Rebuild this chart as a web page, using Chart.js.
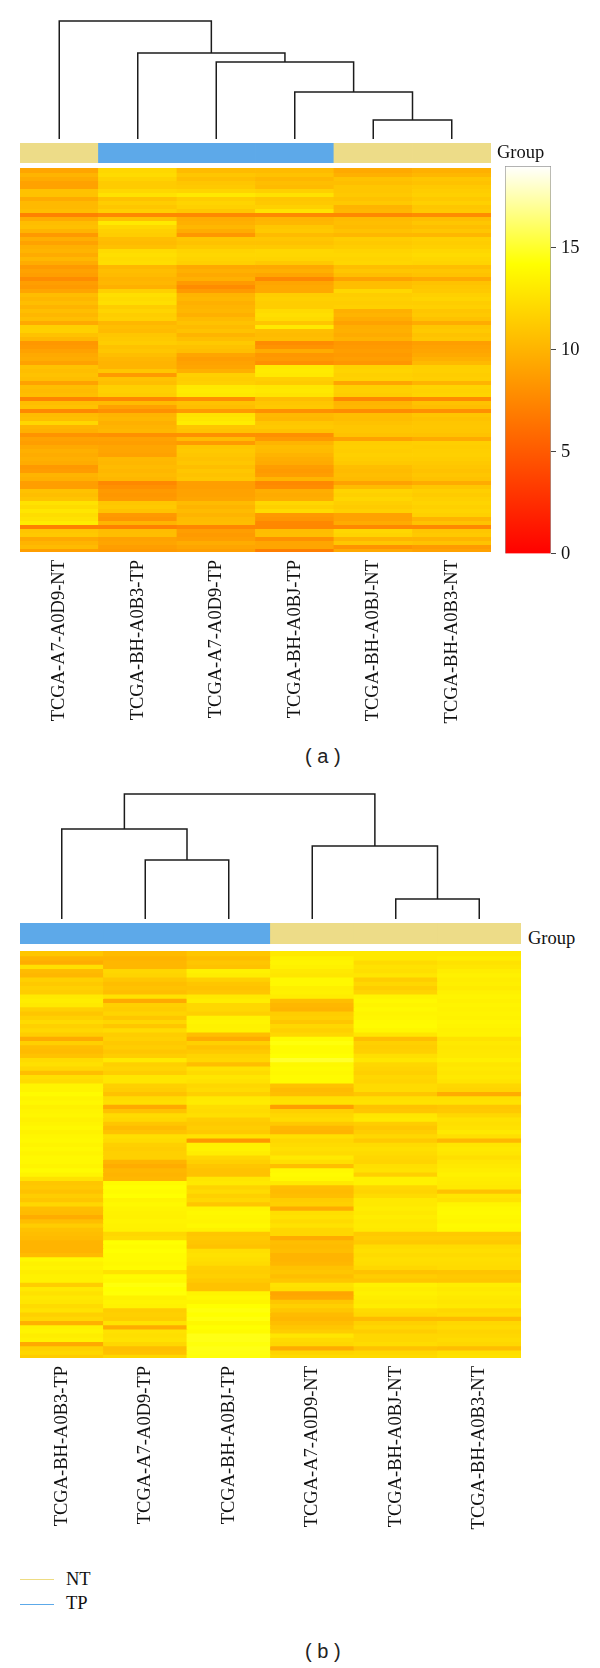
<!DOCTYPE html>
<html>
<head>
<meta charset="utf-8">
<title>Heatmaps</title>
<script src="https://cdn.jsdelivr.net/npm/chart.js@4"></script>
<style>
  html, body { margin: 0; padding: 0; background: #fff; }
  #page { position: relative; width: 600px; height: 1668px; overflow: hidden; }
  #page canvas { position: absolute; }
  .txt { position: absolute; font-family: "Liberation Serif", serif; font-size: 18.5px; color: #111; line-height: 20px; white-space: pre; }
  .cap { font-family: "Liberation Sans", sans-serif; font-size: 20px; line-height: 24px; color: #222; }
  .key { position: absolute; left: 20px; width: 34px; height: 1px; }
</style>
</head>
<body>
<div id="page">
  <canvas id="dendroA"></canvas>
  <canvas id="heatA"></canvas>
  <canvas id="barA"></canvas>
  <div class="txt" style="left:497px;top:142px">Group</div>
  <div class="txt cap" style="left:305px;top:744px">( a )</div>

  <canvas id="dendroB"></canvas>
  <canvas id="heatB"></canvas>
  <div class="txt" style="left:528px;top:928px">Group</div>

  <div class="key" style="top:1579px;background:#eedc82"></div>
  <div class="txt" style="left:66px;top:1569px">NT</div>
  <div class="key" style="top:1604px;background:#5ca9e9"></div>
  <div class="txt" style="left:66px;top:1593px">TP</div>
  <div class="txt cap" style="left:305px;top:1639px">( b )</div>
</div>

<script>
// sample order, left to right
const samplesA = ["TCGA-A7-A0D9-NT", "TCGA-BH-A0B3-TP", "TCGA-A7-A0D9-TP", "TCGA-BH-A0BJ-TP", "TCGA-BH-A0BJ-NT", "TCGA-BH-A0B3-NT"];
const samplesB = ["TCGA-BH-A0B3-TP", "TCGA-A7-A0D9-TP", "TCGA-BH-A0BJ-TP", "TCGA-A7-A0D9-NT", "TCGA-BH-A0BJ-NT", "TCGA-BH-A0B3-NT"];
const groupsA = ["NT", "TP", "TP", "TP", "NT", "NT"];
const groupsB = ["TP", "TP", "TP", "NT", "NT", "NT"];
const colorbarTicks = [0, 5, 10, 15];

// panel a, expression per row, one list per column
const a1 = [9.2,10,9.5,9,9,10.8,10.8,9.5,10.3,10.3,10.5,7.2,9.5,10.5,10.7,10,8.5,9.7,9,9.8,10,9.5,10.2,9.6,8.6,9,8.8,7.8,8.8,8.6,9.2,10.5,10.2,10.6,10,10.6,10.2,10.6,9.4,11.5,11.6,10.8,10.2,8.4,8.6,9,
  9.4,9.6,9,10.8,10.6,10.8,10.6,9,10.6,10.4,10.6,7.4,10.5,10.8,7.6,10.4,10.6,12,10,9.8,8.2,9,8.8,9.4,9.8,9.6,9.8,9.6,8.5,8.7,10,9.8,8.8,8.8,10.8,10.6,10.9,12.6,12.2,12.8,12.3,12.6,13.2,7.2,11,11.2,9.4,10,10.4,8.8];
const a2 = [12,12.2,11.7,11.3,11.3,12,12.6,10.8,11.4,11,11.5,7.6,10.8,13,12,11.6,11.4,10.6,10.4,10.7,12.2,12.4,12.2,12.3,10.2,10.6,10.4,10,10.2,9.8,11.6,12.4,12.2,12.4,11.4,11.8,11.4,11.6,10.2,10.6,10.4,11,11.2,11.4,10.8,11,
  10.6,10.2,10,10,11,8.6,10.8,10.6,11.5,11.6,11.4,7.6,10.4,9,8,10,10.2,9.8,10,10.2,8,9,8.8,9.2,9.2,9,10.3,10.2,10.4,10.2,10.4,10.2,7.6,8,8.6,8.4,8.6,11,11.2,10.8,8.5,8.3,10,7.2,10.5,10.6,9,9.2,8.8,8.6];
const a3 = [10.4,11,10.6,11,11.2,11.8,13,11.4,11.8,11.6,11,7.6,9.6,9.8,10.2,9.6,8.4,11,10.8,11.2,11.8,12,11.8,11.6,9.4,9.8,9.4,9.8,8.6,7.8,8.6,10,10.2,9.8,10,10.2,9.8,10.4,10.8,10.4,10.8,10,10.6,11.2,10.8,10.6,
  9.2,8.8,9,9.2,9.8,11.6,11.4,11.6,13,13.1,12.9,8,10.8,10.6,8.6,12.6,12.8,13.2,11,10.8,8,10.4,8.6,11,11.2,11,10.8,11,10.6,11,10.8,11,8.8,8.8,9,9,9.2,10.4,10,10.4,10,10.4,10.5,7.5,8.8,8.6,8.8,9.6,9.2,8.8];
const a4 = [10.4,10.8,10.2,10.6,10.4,11.6,12.6,11,11.2,11.6,12.6,7.6,10,10.2,11,11.2,10.4,11,10.8,11.2,12,12,11.8,11.2,9.4,9.8,9.2,7.6,9.2,9.4,9.4,11.4,11.6,11.4,11.4,12.2,12.4,12.2,11,13,10.6,10.4,10.6,7.8,8.2,9.6,
  8.4,8.6,8,13,13.1,13,11.5,11.3,12.8,12.9,12.7,10.5,11,11.2,8,10.3,10.2,11,11.2,10.8,8,8.6,10,10.5,10.4,10,9.7,9.5,8.8,8.6,8.8,10,7.6,7.8,9.7,9.5,9.7,12,11.6,12.2,8.5,8.3,7.6,7.5,10.5,10.6,8,9.2,9.2,7];
const a5 = [9.4,9.8,10.8,10.6,11,11,11.2,10.8,11.2,10,10.2,7.6,10.4,10.6,10.4,10.8,10.2,11.4,11.2,11.4,11.8,12,11.8,11.9,10.6,11,10.6,9,10.5,10.6,12,11.4,11.6,11.4,11.6,9.8,10,9.6,9,9.7,9.8,9.5,9.9,8.4,8.6,8.8,
  8.6,8.8,8.4,11.7,11.8,11.6,11.7,9.2,11.5,11.6,11.4,7.6,10,10.2,7.8,10.6,10.5,10.8,11,11,10.8,9,11.4,11.5,11.4,11.6,11.4,11.2,10.6,10.4,10.6,10.4,9,10.4,11.8,11.6,11.9,11.5,11.3,11.6,9,9,9.5,7.6,12,11.8,10,11,8.2,9.4];
const a6 = [9.8,10.2,11,10.8,11.2,11.4,11.6,11.2,11.6,11,11.2,7.8,10.6,11,10.6,11,10.2,11.6,11.4,11.6,12,12.2,12,11.8,10.6,11,10.8,9.4,10.8,11,11.2,11.6,11.8,11.4,11.6,11,11.2,10.8,9.6,11,11.2,10.8,11,8.8,9,9.2,
  9.4,9.8,10.3,11.5,11.6,11.4,11.5,10,11.8,11.7,11.8,7.8,10.8,10.6,8,11,10.8,11,11.1,11,10.8,9.5,11.5,11.4,11.5,11.6,11.4,11.2,11,10.8,11,10.8,9.5,11,11.5,11.3,11.6,11.8,11.6,11.8,11.6,10,10.8,7.6,11,11.2,10,10.8,8.6,9];

// panel b
const b1 = [11,10,9.6,12.4,10.4,10.2,11.6,11.2,11.6,11.4,13,13.2,13,11.6,11,11.6,12.2,11.6,12,11.4,9.5,11.6,10.6,10.4,10.8,12.2,12.5,12,10.6,12.4,12.2,13.6,13.6,14,13.6,13.8,13.4,13.6,13.7,13.4,13.6,13.8,13.5,13.7,13.8,13.6,13.8,13.6,
  13.8,13.8,13.6,14,13.6,12.6,11,11.2,10.8,11.4,11,12,10.6,10.4,9.6,10.6,11.4,10.8,10.6,10.4,10,10,10,10.4,13.8,13.4,13.6,13.2,13.4,13.4,11.4,13,12.6,13,12.8,12.2,12.6,11.6,12,9.8,13.4,13.6,13.2,13.4,9.4,11.6,12,11.4];
const b2 = [10.4,10,10.2,10.2,12,11.8,11,10.6,10.8,10.6,12.6,9.4,11.6,11.4,11.8,11,12,11,12.2,11.4,11.6,11.2,11.4,11,11.4,13,11.6,11.8,11.4,12.8,12.8,11.6,11.4,10.8,12.2,12.4,9.4,10.8,12.2,12,11,10.4,10.8,12.4,12.2,11.6,11.4,11.6,
  11.6,10,9.6,10.2,10,10.2,14,14.2,14,14.2,13.6,13.8,13.6,13.5,13.4,13.6,13.5,13.4,12,12.2,14.2,14,14.2,14,14,13.8,14,12.6,14,13.8,14.4,14.2,14.3,13.4,13.6,13.5,11.4,11.6,11.4,12.6,9.6,12.6,12.4,12.6,12,10.6,10.8,12];
const b3 = [11,10.6,11,10.8,13.4,13.2,11.6,11,10.8,11,13,13.2,12,12,11.6,13.5,13.6,13.4,13.5,10.6,9.6,11.6,10.8,11.2,11.8,12,10.6,12.6,12.2,12.8,12.6,12,12.2,11.6,13,13.1,12.3,12.2,12.4,11.4,11.2,11.4,11.2,12.6,8.4,13.4,13.5,13.2,
  12,11.6,11,10.8,10.8,12.8,13,11.8,12.2,11.6,12,11,13.6,13.8,13.7,13.6,13.8,13.4,11,11.2,11,10.8,12.4,12.6,12.4,12.2,11.6,11.4,11.6,11.2,10.8,10.8,13.6,13.8,13.6,14.2,14.4,14.2,14.4,13.8,14.2,14,14.6,14.6,14.4,14.6,14.5,14.4];
const b4 = [13,13.4,13.6,13.4,13,12.8,13.8,13.8,13.3,13.4,13.2,10.6,10.2,10,11.4,11.6,11,12,11.6,12,14,14.4,14,14,14.2,15,13.8,14,13.8,14,14,10.8,10.4,10.6,12.4,12.6,8.8,11.6,12,12.2,11.2,10.2,10,12.4,12,12.2,12.4,12.2,
  13,12.4,10.6,13.8,14,13.8,13,10.6,10.4,10.6,11.4,11.6,9.6,12.4,12.6,12.2,12.6,12,12,9.6,10.6,10.4,10.6,10,10,10.2,10.8,11,10.6,11,12.6,12.4,9.2,9.4,11,11.6,11,10.4,10.2,10.6,11,11.4,12.8,12.2,12,9.6,11.8,12.2];
const b5 = [13,13,12.2,12.6,12.4,12.8,11.4,12,11.4,11.8,13.6,13.8,13.6,13.8,13.6,13.7,13.9,14,13.7,12.8,10.6,11.6,11.4,11.6,12.4,12.8,12,11.8,11.6,12,11.8,12.2,12.2,11,12.4,12.6,10.8,11,12.8,13,11.4,11,11.4,12,11.2,12.2,12.4,12.2,
  12,11.8,12.4,12.6,11.6,13.4,13.4,12,11.8,12.2,13,13,13.2,13,13.2,13,13.1,13,11.2,11.4,11.2,12.2,12.4,12.2,12.4,12.3,12,10.8,11.4,11,13.4,13.2,13.4,13.2,13,13.2,12.2,12,10.4,11.6,12,11.4,12,12,12.2,10.8,12,12.2];
const b6 = [13,13.2,12.6,12.8,13.2,13.4,13.2,13.3,13.1,13.4,13.6,13.4,13.6,13.5,13.6,13.5,13.7,13.6,13.4,13.5,12.6,13,12.8,12.9,13,13.3,12.8,13,12.8,13,12.7,12,11.8,9.6,12.4,12.6,11,11.2,12,12.6,12.4,12.6,13,12.4,10.2,12.8,13,12.8,
  12.4,12.8,13,13.2,13.4,13.2,13.1,13,10.8,12.8,12.6,13.6,13.8,13.9,13.8,13.7,13.9,13.8,11.2,11.4,11.2,12.2,12.4,12.2,12.4,12.3,12.2,10.9,11.2,11,13.2,13,13.2,13,12.8,13,12,12.2,10.4,12,12.2,11.8,12,12.2,12,10.6,12.4,12.6];

// dendrograms: [left, right, height], children are a leaf index or "n" + merge index
const mergesA = [[4, 5, 19], [3, "n0", 47], [2, "n1", 77], [1, "n2", 86], [0, "n3", 118]];
const mergesB = [[4, 5, 20], [3, "n0", 73], [1, 2, 59], [0, "n2", 90], ["n3", "n1", 125]];

const GROUP_COLORS = { NT: "#eddc88", TP: "#5da9e9" };
const SERIF = "'Liberation Serif', serif";

Chart.defaults.animation = false;
Chart.defaults.responsive = false;
Chart.defaults.plugins.legend.display = false;
Chart.defaults.plugins.tooltip.enabled = false;

// same ramp as the colour key: red, yellow at 14.2, white at 19
function heatColor(v) {
  if (v <= 14.2) {
    return `rgb(255, ${Math.round((v / 14.2) * 255)}, 0)`;
  }
  return `rgb(255, 255, ${Math.round(((v - 14.2) / 4.8) * 255)})`;
}

function place(id, left, top, width, height) {
  const canvas = document.getElementById(id);
  canvas.width = width;
  canvas.height = height;
  canvas.style.left = left + "px";
  canvas.style.top = top + "px";
  return canvas;
}

function renderDendro(id, merges, box, maxH) {
  const canvas = place(id, box.left, box.top, box.width, box.height);
  const nodeX = [];
  const pos = (c) => (typeof c === "number" ? { x: c + 0.5, h: 0 } : nodeX[Number(c.slice(1))]);
  const datasets = merges.map(([l, r, h]) => {
    const a = pos(l);
    const b = pos(r);
    nodeX.push({ x: (a.x + b.x) / 2, h });
    return {
      data: [{ x: a.x, y: a.h }, { x: a.x, y: h }, { x: b.x, y: h }, { x: b.x, y: b.h }],
      showLine: true,
      borderColor: "#1c1c1c",
      borderWidth: 1.5,
      pointRadius: 0,
      tension: 0,
      clip: false
    };
  });
  new Chart(canvas, {
    type: "scatter",
    data: { datasets },
    options: {
      scales: {
        x: { type: "linear", min: 0, max: 6, display: false },
        y: { type: "linear", min: 0, max: maxH, display: false }
      }
    }
  });
}

function renderHeat(id, samples, groups, columns, box, yMin, stripFrom, stripTo) {
  const canvas = place(id, box.left, box.top, box.width, box.height);
  const rowCount = columns[0].length;
  const datasets = [
    {
      data: samples.map(() => [stripFrom, stripTo]),
      backgroundColor: groups.map((g) => GROUP_COLORS[g]),
      grouped: false,
      barPercentage: 1.01,
      categoryPercentage: 1
    }
  ];
  for (let r = 0; r < rowCount; r++) {
    datasets.push({
      // rows overlap a little so no pale seams show between them
      data: samples.map(() => [r, r + 1.25]),
      backgroundColor: columns.map((col) => heatColor(col[r])),
      grouped: false,
      barPercentage: 1.01,
      categoryPercentage: 1
    });
  }
  new Chart(canvas, {
    type: "bar",
    data: { labels: samples, datasets },
    options: {
      layout: { padding: 0 },
      scales: {
        x: {
          grid: { display: false, drawTicks: false },
          border: { display: false },
          ticks: {
            autoSkip: false,
            minRotation: 90,
            maxRotation: 90,
            padding: 8,
            color: "#111",
            font: { family: SERIF, size: 18.5 }
          },
          afterFit(scale) {
            scale.height = box.labelHeight;
          }
        },
        y: {
          display: false,
          reverse: true,
          min: yMin,
          max: rowCount
        }
      }
    }
  });
}

function renderColorbar() {
  const canvas = place("barA", 505, 150, 95, 420);
  new Chart(canvas, {
    type: "bar",
    data: {
      labels: ["key"],
      datasets: [
        {
          data: [[0, 19]],
          barPercentage: 1,
          categoryPercentage: 1,
          borderColor: "#999",
          borderWidth: 1,
          backgroundColor(context) {
            const area = context.chart.chartArea;
            if (!area) return "#ff0";
            const g = context.chart.ctx.createLinearGradient(0, area.bottom, 0, area.top);
            g.addColorStop(0, heatColor(0));
            g.addColorStop(14.2 / 19, heatColor(14.2));
            g.addColorStop(1, heatColor(19));
            return g;
          }
        }
      ]
    },
    options: {
      layout: { padding: 0 },
      scales: {
        x: { display: false },
        y: {
          position: "right",
          min: 0,
          max: 19,
          border: { display: false },
          grid: { drawOnChartArea: false, drawTicks: true, tickLength: 5, color: "#444" },
          ticks: { padding: 5, color: "#111", font: { family: SERIF, size: 18.5 } },
          afterBuildTicks(scale) {
            scale.ticks = colorbarTicks.map((value) => ({ value }));
          },
          afterFit(scale) {
            scale.width = 49;
          }
        }
      }
    }
  });
}

renderDendro("dendroA", mergesA, { left: 20, top: 19, width: 471, height: 120 }, 120);
renderHeat("heatA", samplesA, groupsA, [a1, a2, a3, a4, a5, a6], { left: 20, top: 143, width: 471, height: 589, labelHeight: 180 }, -6.25, -6.25, -1.25);
renderColorbar();
renderDendro("dendroB", mergesB, { left: 20, top: 791, width: 501, height: 128 }, 128);
renderHeat("heatB", samplesB, groupsB, [b1, b2, b3, b4, b5, b6], { left: 20, top: 923, width: 501, height: 615, labelHeight: 180 }, -6.6, -6.6, -1.65);
</script>
</body>
</html>
